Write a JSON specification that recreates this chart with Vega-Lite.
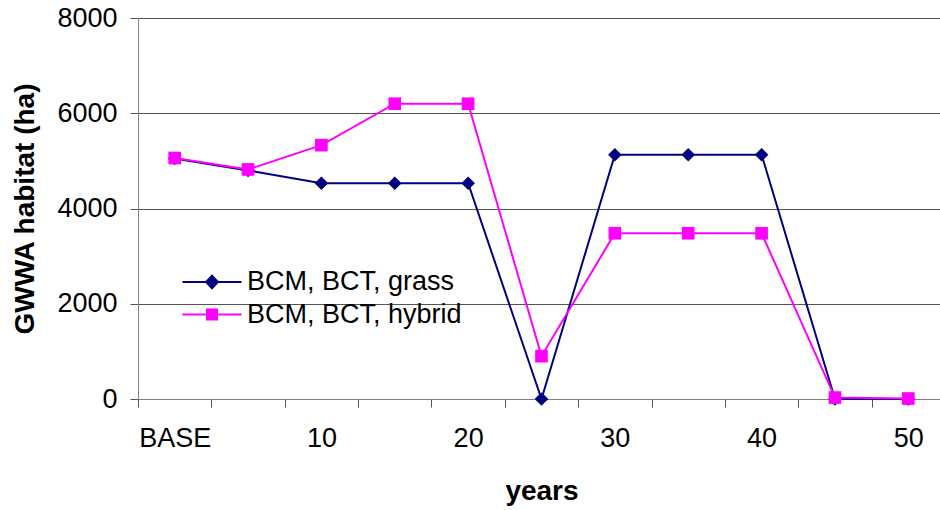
{
  "$schema": "https://vega.github.io/schema/vega-lite/v6.json",
  "width": 802,
  "height": 381,
  "autosize": {"type": "none"},
  "padding": {"left": 138, "top": 18, "right": 0, "bottom": 111},
  "background": "white",
  "config": {"view": {"stroke": null}, "font": "Liberation Sans"},
  "data": {
    "values": [
      {"year": "BASE", "series": "BCM, BCT, grass", "habitat": 5050},
      {"year": "5", "series": "BCM, BCT, grass", "habitat": 4800},
      {"year": "10", "series": "BCM, BCT, grass", "habitat": 4530},
      {"year": "15", "series": "BCM, BCT, grass", "habitat": 4530},
      {"year": "20", "series": "BCM, BCT, grass", "habitat": 4530},
      {"year": "25", "series": "BCM, BCT, grass", "habitat": 0},
      {"year": "30", "series": "BCM, BCT, grass", "habitat": 5130},
      {"year": "35", "series": "BCM, BCT, grass", "habitat": 5130},
      {"year": "40", "series": "BCM, BCT, grass", "habitat": 5130},
      {"year": "45", "series": "BCM, BCT, grass", "habitat": 0},
      {"year": "50", "series": "BCM, BCT, grass", "habitat": 0},
      {"year": "BASE", "series": "BCM, BCT, hybrid", "habitat": 5060},
      {"year": "5", "series": "BCM, BCT, hybrid", "habitat": 4820},
      {"year": "10", "series": "BCM, BCT, hybrid", "habitat": 5330},
      {"year": "15", "series": "BCM, BCT, hybrid", "habitat": 6200},
      {"year": "20", "series": "BCM, BCT, hybrid", "habitat": 6200},
      {"year": "25", "series": "BCM, BCT, hybrid", "habitat": 900},
      {"year": "30", "series": "BCM, BCT, hybrid", "habitat": 3480},
      {"year": "35", "series": "BCM, BCT, hybrid", "habitat": 3480},
      {"year": "40", "series": "BCM, BCT, hybrid", "habitat": 3480},
      {"year": "45", "series": "BCM, BCT, hybrid", "habitat": 30},
      {"year": "50", "series": "BCM, BCT, hybrid", "habitat": 10}
    ]
  },
  "encoding": {
    "x": {
      "field": "year",
      "type": "ordinal",
      "sort": ["BASE", "5", "10", "15", "20", "25", "30", "35", "40", "45", "50"],
      "scale": {"type": "band", "paddingInner": 0, "paddingOuter": 0, "range": [0, 807]},
      "axis": {
        "title": "years",
        "titleFontSize": 28,
        "titleFontWeight": "bold",
        "titleColor": "black",
        "titlePadding": 26,
        "labelFontSize": 27,
        "labelColor": "black",
        "labelAngle": 0,
        "labelPadding": 18,
        "labelExpr": "indexof(['5','15','25','35','45'], datum.label) >= 0 ? '' : datum.label",
        "tickBand": "extent",
        "tickSize": 8,
        "tickColor": "#555555",
        "domainColor": "#808080",
        "grid": false
      }
    },
    "y": {
      "field": "habitat",
      "type": "quantitative",
      "scale": {"domain": [0, 8000], "nice": false},
      "axis": {
        "title": "GWWA habitat (ha)",
        "titleFontSize": 28,
        "titleFontWeight": "bold",
        "titleColor": "black",
        "titlePadding": 17,
        "values": [0, 2000, 4000, 6000, 8000],
        "format": "d",
        "labelFontSize": 27,
        "labelColor": "black",
        "labelPadding": 13,
        "tickSize": 8,
        "tickColor": "#555555",
        "domainColor": "#808080",
        "grid": true,
        "gridColor": "#555555"
      }
    },
    "color": {
      "field": "series",
      "type": "nominal",
      "scale": {"domain": ["BCM, BCT, grass", "BCM, BCT, hybrid"], "range": ["#000080", "#FF00FF"]},
      "legend": {
        "title": null,
        "orient": "none",
        "legendX": 58,
        "legendY": 248,
        "padding": 0,
        "labelFontSize": 27,
        "labelColor": "black",
        "labelLimit": 0,
        "labelOffset": 19,
        "rowPadding": 3.5,
        "symbolSize": 870,
        "symbolStrokeWidth": 2,
        "encode": {
          "symbols": {
            "update": {
              "shape": {"signal": "datum.value == 'BCM, BCT, grass' ? 'M-2,0H2M0,-0.42L0.4,0L0,0.42L-0.4,0Z' : 'M-2,0H2M-0.34,-0.34H0.34V0.34H-0.34Z'"},
              "fill": {"scale": "color", "field": "value"},
              "stroke": {"scale": "color", "field": "value"},
              "strokeWidth": {"value": 2},
              "opacity": {"value": 1},
              "fillOpacity": {"value": 1},
              "strokeOpacity": {"value": 1}
            }
          }
        }
      }
    }
  },
  "layer": [
    {
      "transform": [{"filter": "datum.series == 'BCM, BCT, grass'"}],
      "mark": {"type": "line", "strokeWidth": 2}
    },
    {
      "transform": [{"filter": "datum.series == 'BCM, BCT, grass'"}],
      "mark": {"type": "point", "shape": "diamond", "filled": true, "size": 185, "opacity": 1}
    },
    {
      "transform": [{"filter": "datum.series == 'BCM, BCT, hybrid'"}],
      "mark": {"type": "line", "strokeWidth": 2}
    },
    {
      "transform": [{"filter": "datum.series == 'BCM, BCT, hybrid'"}],
      "mark": {"type": "point", "shape": "square", "filled": true, "size": 160, "opacity": 1}
    }
  ]
}
